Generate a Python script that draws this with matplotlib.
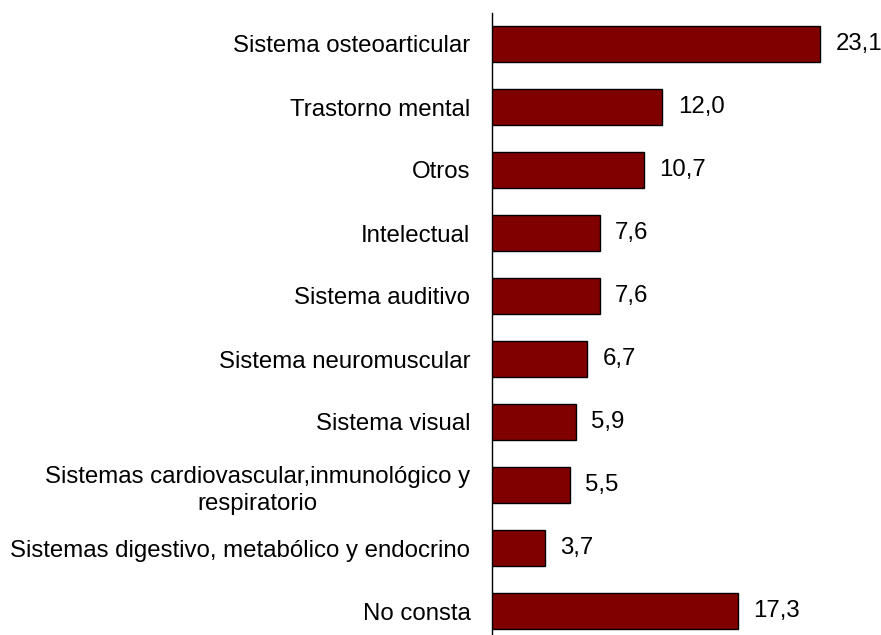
import matplotlib
matplotlib.use("Agg")
import matplotlib.pyplot as plt

categories = [
    "Sistema osteoarticular",
    "Trastorno mental",
    "Otros",
    "Intelectual",
    "Sistema auditivo",
    "Sistema neuromuscular",
    "Sistema visual",
    "Sistemas cardiovascular,inmunológico y\nrespiratorio",
    "Sistemas digestivo, metabólico y endocrino",
    "No consta",
]
values = [23.1, 12.0, 10.7, 7.6, 7.6, 6.7, 5.9, 5.5, 3.7, 17.3]
value_labels = ["23,1", "12,0", "10,7", "7,6", "7,6", "6,7", "5,9", "5,5", "3,7", "17,3"]

plt.rcParams['font.family'] = ['Liberation Sans', 'DejaVu Sans']

W, H = 881, 635
fig = plt.figure(figsize=(W / 100, H / 100), dpi=100)
ax_left, ax_top, ax_bottom, ax_right = 492, 13, 635, 881
ax = fig.add_axes([ax_left / W, 1 - ax_bottom / H, (ax_right - ax_left) / W, (ax_bottom - ax_top) / H])

pos = list(range(len(categories)))
ax.barh(pos, values, height=0.571, color="#800000", edgecolor="black", linewidth=1.0, zorder=3)

px_per_unit = 14.2
ax.set_xlim(0, (ax_right - ax_left) / px_per_unit)
spacing = 63.0
ax.set_ylim(9 + (ax_bottom - 611) / spacing, -(44 - ax_top) / spacing)

ax.set_yticks(pos)
labels = ax.set_yticklabels(categories, fontsize=17.3, ha="right", multialignment="center")
for t in labels:
    t.set_linespacing(1.3)
ax.tick_params(axis="y", length=0, pad=15.5)
ax.set_xticks([])

for s in ["top", "right", "bottom"]:
    ax.spines[s].set_visible(False)
ax.spines["left"].set_linewidth(1.0)

for p, v, lab in zip(pos, values, value_labels):
    ax.annotate(lab, xy=(v, p), xytext=(11, 0), textcoords="offset points",
                va="center", ha="left", fontsize=17.3)

fig.savefig("out.png", dpi=100)
